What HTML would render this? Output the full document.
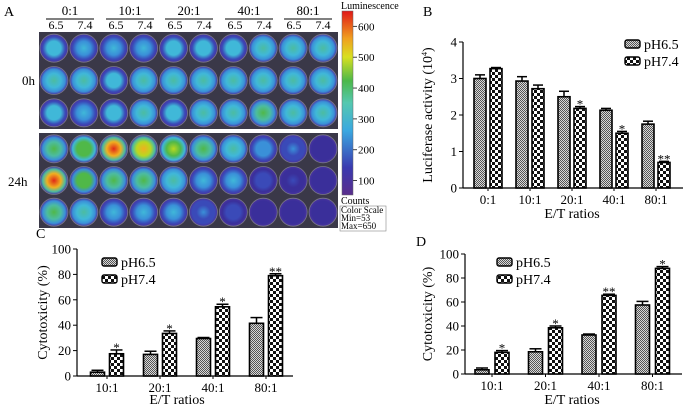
<!DOCTYPE html>
<html><head><meta charset="utf-8"><style>
html,body{margin:0;padding:0;background:#fff;}
svg{display:block;font-family:"Liberation Serif",serif;}
</style></head><body>
<svg id="fig" width="700" height="411" viewBox="0 0 700 411" xmlns="http://www.w3.org/2000/svg">
<defs>
<pattern id="p65" width="2" height="2" patternUnits="userSpaceOnUse"><rect width="2" height="2" fill="#d8d8d8"/><rect width="1" height="1" fill="#555"/><rect x="1" y="1" width="1" height="1" fill="#555"/></pattern>
<pattern id="p74" width="6" height="6" patternUnits="userSpaceOnUse"><rect width="6" height="6" fill="#fff"/><rect width="3" height="3" fill="#111"/><rect x="3" y="3" width="3" height="3" fill="#111"/></pattern>
<linearGradient id="cbar" x1="0" y1="1" x2="0" y2="0">
<stop offset="0" stop-color="#5a2e8c"/><stop offset="0.15" stop-color="#3a3ab0"/><stop offset="0.35" stop-color="#3aa8e0"/><stop offset="0.5" stop-color="#55c8b0"/><stop offset="0.62" stop-color="#4cb84a"/><stop offset="0.75" stop-color="#d8e020"/><stop offset="0.85" stop-color="#f0a020"/><stop offset="1" stop-color="#e01818"/>
</linearGradient>
</defs>
<g id="panelA"></g>
<g id="panelB"></g>
<g id="panelC"></g>
<g id="panelD"></g>
</svg>
<script>
// Panel B data
const catsB = ["0:1","10:1","20:1","40:1","80:1"];
const b65 = [3.0,2.93,2.5,2.13,1.75];
const b74 = [3.27,2.72,2.18,1.5,0.7];
const b65Err = [0.1,0.12,0.15,0.05,0.08];
const b74Err = [0.03,0.1,0.05,0.05,0.03];
const b74Sig = ["","","*","*","**"];
const ticksB = [0,1,2,3,4];
// Panel C data
const catsC = ["10:1","20:1","40:1","80:1"];
const c65 = [3,17,29.5,41.5];
const c74 = [17.5,33.5,54.5,79];
const c65Err = [1.5,2.5,0.8,4.5];
const c74Err = [3,2,2,1.5];
const c74Sig = ["*","*","*","**"];
const ticksC = [0,20,40,60,80,100];
// Panel D data
const catsD = ["10:1","20:1","40:1","80:1"];
const d65 = [3.5,18.5,32.5,57.5];
const d74 = [18,38.5,65.5,88];
const d65Err = [1.5,2.5,0.8,3];
const d74Err = [1.5,1.5,1,1.5];
const d74Sig = ["*","*","**","*"];
const ticksD = [0,20,40,60,80,100];

const NS="http://www.w3.org/2000/svg";
function mk(parent,tag,attrs,text){const e=document.createElementNS(NS,tag);for(const k in attrs)e.setAttribute(k,attrs[k]);if(text!==undefined)e.textContent=text;parent.appendChild(e);return e;}

function chart(g,cfg,cats,s1,s2,e1,e2,sig2,ticks){
  const y=v=>cfg.y0-(v-cfg.vmin)/(cfg.vmax-cfg.vmin)*(cfg.y0-cfg.y1);
  const cx=i=>cfg.xFirst+i*cfg.step;
  const ax=mk(g,'line',{x1:cfg.ax,y1:cfg.y1,x2:cfg.ax,y2:cfg.y0,stroke:'#000','stroke-width':1.2});
  
  const xa=mk(g,'line',{x1:cfg.ax,y1:cfg.y0,x2:cfg.xEnd,y2:cfg.y0,stroke:'#000','stroke-width':1.2});
  
  ticks.forEach(t=>{
    mk(g,'line',{x1:cfg.ax-4,y1:y(t),x2:cfg.ax,y2:y(t),stroke:'#000'});
    const tl=mk(g,'text',{x:cfg.ax-6,y:y(t)+4.5,'font-size':13,'text-anchor':'end'},String(t));
    
  });
  cats.forEach((c,i)=>{
    const tl=mk(g,'text',{x:cx(i),y:cfg.y0+16,'font-size':13,'text-anchor':'middle'},c);
    
    mk(g,'line',{x1:cx(i),y1:cfg.y0,x2:cx(i),y2:cfg.y0+3,stroke:'#000'});
    [[s1,e1,'url(#p65)',-1,null],[s2,e2,'url(#p74)',1,sig2]].forEach(([s,e,f,side,sg])=>{
      const bx=side<0?cx(i)-cfg.gap/2-cfg.bw:cx(i)+cfg.gap/2;
      const top=y(s[i]);
      const r=mk(g,'rect',{x:bx,y:top,width:cfg.bw,height:cfg.y0-top,fill:f,stroke:'#000','stroke-width':1.6});
      
      const et=y(s[i]+e[i]);
      mk(g,'line',{x1:bx+cfg.bw/2,y1:top,x2:bx+cfg.bw/2,y2:et,stroke:'#000','stroke-width':1.5});
      mk(g,'line',{x1:bx+1,y1:et,x2:bx+cfg.bw-1,y2:et,stroke:'#000','stroke-width':1.5});
      if(sg&&sg[i]){const st=mk(g,'text',{x:bx+cfg.bw/2,y:et+2,'font-size':13,'text-anchor':'middle'},sg[i]);
        }
    });
  });
  [[0,'url(#p65)','pH6.5'],[1,'url(#p74)','pH7.4']].forEach(([k,f,t])=>{
    const ly=cfg.legY+k*17;
    const lb=mk(g,'rect',{x:cfg.legX,y:ly-4,width:15,height:8,fill:f,stroke:'#000','stroke-width':1.4,rx:2});
    
    const lt=mk(g,'text',{x:cfg.legX+19,y:ly+5,'font-size':14},t);
    
  });
  const yt=mk(g,'text',{x:cfg.ytX,y:(cfg.y0+cfg.y1)/2,'font-size':14,'text-anchor':'middle',transform:`rotate(-90 ${cfg.ytX} ${(cfg.y0+cfg.y1)/2})`});
  
  yt.textContent=cfg.ytitle;
  if(cfg.sup){mk(yt,'tspan',{'font-size':8,dy:-5},cfg.sup);mk(yt,'tspan',{dy:5},')');}
  const xt=mk(g,'text',{x:cfg.xtX,y:cfg.xtY,'font-size':14,'text-anchor':'middle'},'E/T ratios');
  
  const pl=mk(g,'text',{x:cfg.lblX,y:cfg.lblY,'font-size':14},cfg.lbl);
  
}
chart(document.getElementById('panelB'),{ax:463,xEnd:683,y0:188,y1:42,vmin:0,vmax:4,xFirst:488,step:42,bw:12,gap:4,legX:625,legY:44,ytX:432,ytitle:'Luciferase activity (10',sup:'4',xtX:572,xtY:218,lblX:423,lblY:16,lbl:'B'},catsB,b65,b74,b65Err,b74Err,b74Sig,ticksB);
chart(document.getElementById('panelC'),{ax:77,xEnd:293,y0:376,y1:249,vmin:0,vmax:100,xFirst:107,step:53,bw:14,gap:5,legX:102,legY:262,ytX:47,ytitle:'Cytotoxicity (%)',xtX:177,xtY:404,lblX:36,lblY:238,lbl:'C'},catsC,c65,c74,c65Err,c74Err,c74Sig,ticksC);
chart(document.getElementById('panelD'),{ax:465,xEnd:682,y0:374,y1:254,vmin:0,vmax:100,xFirst:492,step:53.5,bw:14,gap:6,legX:497,legY:262,ytX:432,ytitle:'Cytotoxicity (%)',xtX:572,xtY:404,lblX:416,lblY:246,lbl:'D'},catsD,d65,d74,d65Err,d74Err,d74Sig,ticksD);

// Panel A: luminescence plate image (well color levels, 0=dark blue .. 1=red)
const wells0h=[
[0.45,0.42,0.42,0.42,0.43,0.45,0.45,0.5,0.5,0.48],
[0.5,0.5,0.45,0.5,0.52,0.52,0.52,0.52,0.5,0.5],
[0.45,0.42,0.45,0.5,0.45,0.48,0.52,0.55,0.48,0.48]];
const wells24h=[
[0.6,0.65,0.9,0.8,0.75,0.58,0.52,0.35,0.3,0.1],
[0.9,0.62,0.58,0.58,0.5,0.42,0.4,0.2,0.18,0.12],
[0.55,0.48,0.42,0.42,0.4,0.3,0.2,0.15,0.12,0.12]];
const cbTicks=[100,200,300,400,500,600];
function lum(v){const s=[[0,'#3a2f9a'],[0.17,'#3a4ab8'],[0.28,'#3a90d8'],[0.38,'#40b8d8'],[0.48,'#4cbca0'],[0.55,'#50b848'],[0.68,'#b8d820'],[0.8,'#f0b020'],[0.88,'#e02818']];
  let c=s[0][1];for(const [t,col] of s){if(v>=t)c=col;}return c;}
const A=document.getElementById('panelA');
const defs=document.querySelector('defs');
let gid=0;
function plate(y0,h,data){
  const bg=mk(A,'rect',{x:39,y:y0,width:299,height:h,fill:'#3a3848'});
  
  const rh=h/3, cw=29.9;
  data.forEach((row,r)=>row.forEach((v,c)=>{
    const id='w'+(gid++);
    const gr=mk(defs,'radialGradient',{id:id});
    mk(gr,'stop',{offset:'0','stop-color':lum(v)});
    mk(gr,'stop',{offset:'0.5','stop-color':lum(v*0.9)});
    mk(gr,'stop',{offset:'0.8','stop-color':lum(v*0.6)});
    mk(gr,'stop',{offset:'1','stop-color':'#4a34a0'});
    const cx=39+cw*(c+0.5), cy=y0+rh*(r+0.5);
    const w=mk(A,'circle',{cx:cx,cy:cy,r:14,fill:`url(#${id})`,stroke:'#7a7888','stroke-width':0.8});
    
  }));
}
plate(32,97,wells0h);
plate(133,95,wells24h);
const hdr=[["0:1",70],["10:1",130],["20:1",189],["40:1",249],["80:1",308]];
hdr.forEach(([t,x])=>{
  const l=mk(A,'text',{x:x,y:15,'font-size':13,'text-anchor':'middle'},t);
  
  mk(A,'line',{x1:x-24,y1:19,x2:x+24,y2:19,stroke:'#000'});
  const a=mk(A,'text',{x:x-14,y:29,'font-size':12,'text-anchor':'middle'},'6.5');
  
  const b=mk(A,'text',{x:x+15,y:29,'font-size':12,'text-anchor':'middle'},'7.4');
  
});
[["A",4,16,14],["0h",22,85,13],["24h",8,186,13]].forEach(([t,x,y,s])=>{
  const e=mk(A,'text',{x:x,y:y,'font-size':s},t);
  
});
const cb=mk(A,'rect',{x:342,y:11,width:11,height:184,fill:'url(#cbar)',stroke:'#666','stroke-width':0.5});

const cby=v=>195-(v-53)/(650-53)*184;
cbTicks.forEach(t=>{
  mk(A,'line',{x1:353,y1:cby(t),x2:357,y2:cby(t),stroke:'#444'});
  const e=mk(A,'text',{x:358,y:cby(t)+4,'font-size':11},String(t));
  
});
const lt=mk(A,'text',{x:341,y:9,'font-size':10},'Luminescence');

const ct=mk(A,'text',{x:341,y:204,'font-size':10},'Counts');

mk(A,'rect',{x:340,y:206,width:46,height:25,fill:'#fff',stroke:'#888','stroke-width':0.6});
[['Color Scale',213],['Min=53',221],['Max=650',229]].forEach(([t,y])=>{
  const e=mk(A,'text',{x:341,y:y,'font-size':9},t);
  
});
</script>
</body></html>
